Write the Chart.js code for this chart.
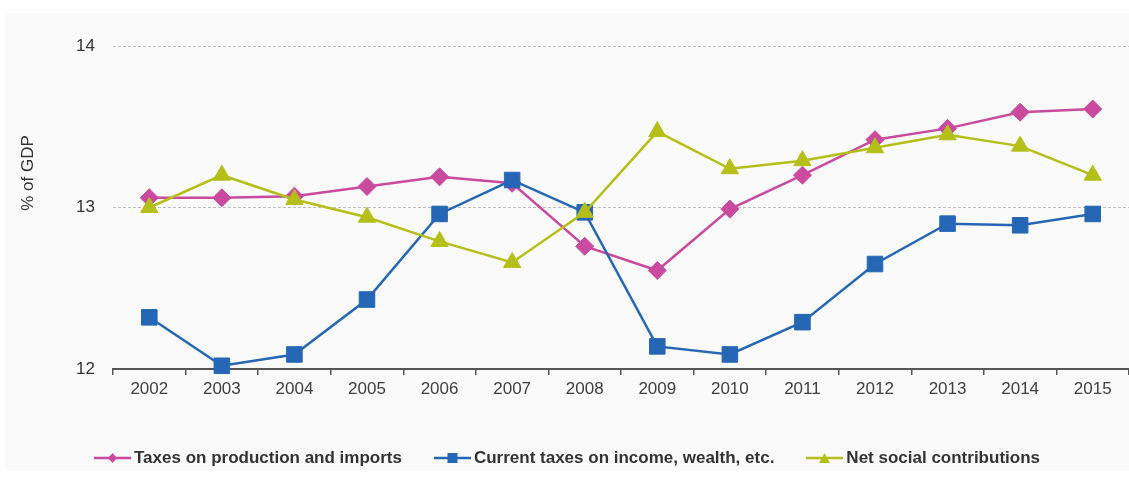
<!DOCTYPE html>
<html>
<head>
<meta charset="utf-8">
<script src="https://cdn.jsdelivr.net/npm/chart.js@4/dist/chart.umd.min.js"></script>
<style>
    body { margin: 0; background: #fff; font-family: "Liberation Sans", Arial, sans-serif; }
    #panel { position: absolute; left: 5px; top: 13px; width: 1124px; height: 458px; background: #fafafa; }
    #chartBox { position: absolute; left: 0; top: 0; width: 1124px; height: 458px; }
    #legend { position: absolute; left: 0; top: 435px; width: 1124px; height: 20px;
              display: flex; justify-content: center; }
    .item { display: flex; align-items: center; margin-right: 32px; font-weight: bold; font-size: 17px; color: #333; }
    .item:last-child { margin-right: 0; }
    .item svg { margin-right: 3px; }
</style>
</head>
<body>
<div id="panel">
    <div id="chartBox"><canvas id="taxChart"></canvas></div>
    <div id="legend"></div>
</div>
<script>
const years = ['2002', '2003', '2004', '2005', '2006', '2007', '2008', '2009', '2010', '2011', '2012', '2013', '2014', '2015'];

const productionImports = [13.06, 13.06, 13.07, 13.13, 13.19, 13.15, 12.76, 12.61, 12.99, 13.20, 13.42, 13.49, 13.59, 13.61];
const incomeWealth = [12.32, 12.02, 12.09, 12.43, 12.96, 13.17, 12.97, 12.14, 12.09, 12.29, 12.65, 12.90, 12.89, 12.96];
const socialContrib = [13.00, 13.20, 13.05, 12.94, 12.79, 12.66, 12.97, 13.47, 13.24, 13.29, 13.37, 13.45, 13.38, 13.20];

const seriesNames = ['Taxes on production and imports', 'Current taxes on income, wealth, etc.', 'Net social contributions'];
const yTicks = [12, 13, 14];
const yTitle = '% of GDP';

const colors = ['#c94a9e', '#2667b5', '#b5bf1a'];
const styles = ['rectRot', 'rect', 'triangle'];
const radii = [9, 11, 10];

const FONT = '"Liberation Sans", Arial, sans-serif';

// y axis title sits a bit above the middle of the plot
const yTitlePlugin = {
    id: 'yTitle',
    afterDraw(chart) {
        const ctx = chart.ctx;
        const area = chart.chartArea;
        ctx.save();
        ctx.translate(23, area.top + 127);
        ctx.rotate(-Math.PI / 2);
        ctx.font = '17px ' + FONT;
        ctx.fillStyle = '#333';
        ctx.textAlign = 'center';
        ctx.textBaseline = 'middle';
        ctx.fillText(yTitle, 0, 0);
        ctx.restore();
    }
};

function makeDataset(i, values) {
    return {
        label: seriesNames[i],
        data: values,
        borderColor: colors[i],
        backgroundColor: colors[i],
        borderWidth: 2.5,
        pointStyle: styles[i],
        pointRadius: radii[i],
        pointHoverRadius: radii[i],
        pointBorderWidth: 1,
        pointBorderColor: colors[i],
        pointBackgroundColor: colors[i],
        tension: 0,
        clip: false,
        order: 3 - i            // net social contributions on top
    };
}

const ctx = document.getElementById('taxChart').getContext('2d');

new Chart(ctx, {
    type: 'line',
    data: {
        labels: years,
        datasets: [
            makeDataset(0, productionImports),
            makeDataset(1, incomeWealth),
            makeDataset(2, socialContrib)
        ]
    },
    options: {
        responsive: true,
        maintainAspectRatio: false,
        animation: false,
        layout: { autoPadding: false, padding: { top: 33, right: 0, left: 0, bottom: 0 } },
        plugins: {
            legend: { display: false },
            tooltip: { enabled: false }
        },
        scales: {
            x: {
                offset: true,
                afterFit: scale => { scale.height = 102; },
                grid: {
                    offset: true,
                    drawOnChartArea: false,
                    drawTicks: true,
                    tickLength: 6,
                    color: '#555',
                    lineWidth: 1.5
                },
                border: { display: true, color: '#555', width: 2 },
                ticks: {
                    color: '#404040',
                    font: { family: FONT, size: 17 },
                    padding: 4,
                    maxRotation: 0
                }
            },
            y: {
                min: yTicks[0],
                max: yTicks[yTicks.length - 1],
                afterFit: scale => { scale.width = 108; },
                afterBuildTicks: scale => { scale.ticks = yTicks.map(v => ({ value: v })); },
                grid: {
                    drawTicks: false,
                    color: ctx => ctx.tick && ctx.tick.value === yTicks[0] ? 'rgba(0,0,0,0)' : '#bdbdbd',
                    lineWidth: 1
                },
                border: { display: false, dash: [3, 2] },     // dashed gridlines
                ticks: {
                    color: '#333',
                    font: { family: FONT, size: 17 },
                    padding: 18
                }
            }
        }
    },
    plugins: [yTitlePlugin]
});

// legend: line with marker, then the series name
function markerSvg(i) {
    const c = colors[i];
    let shape = '';
    if (styles[i] === 'rectRot') shape = `<polygon points="18.5,2 23,7 18.5,12 14,7" fill="${c}"/>`;
    if (styles[i] === 'rect') shape = `<rect x="13.5" y="2" width="10" height="10" fill="${c}"/>`;
    if (styles[i] === 'triangle') shape = `<polygon points="18.5,2 24,12 13,12" fill="${c}"/>`;
    return `<svg width="37" height="14" viewBox="0 0 37 14"><line x1="0" y1="7" x2="37" y2="7" stroke="${c}" stroke-width="2.5"/>${shape}</svg>`;
}

const legendEl = document.getElementById('legend');
seriesNames.forEach((name, i) => {
    const item = document.createElement('div');
    item.className = 'item';
    item.innerHTML = markerSvg(i) + '<span>' + name + '</span>';
    legendEl.appendChild(item);
});
</script>
</body>
</html>
